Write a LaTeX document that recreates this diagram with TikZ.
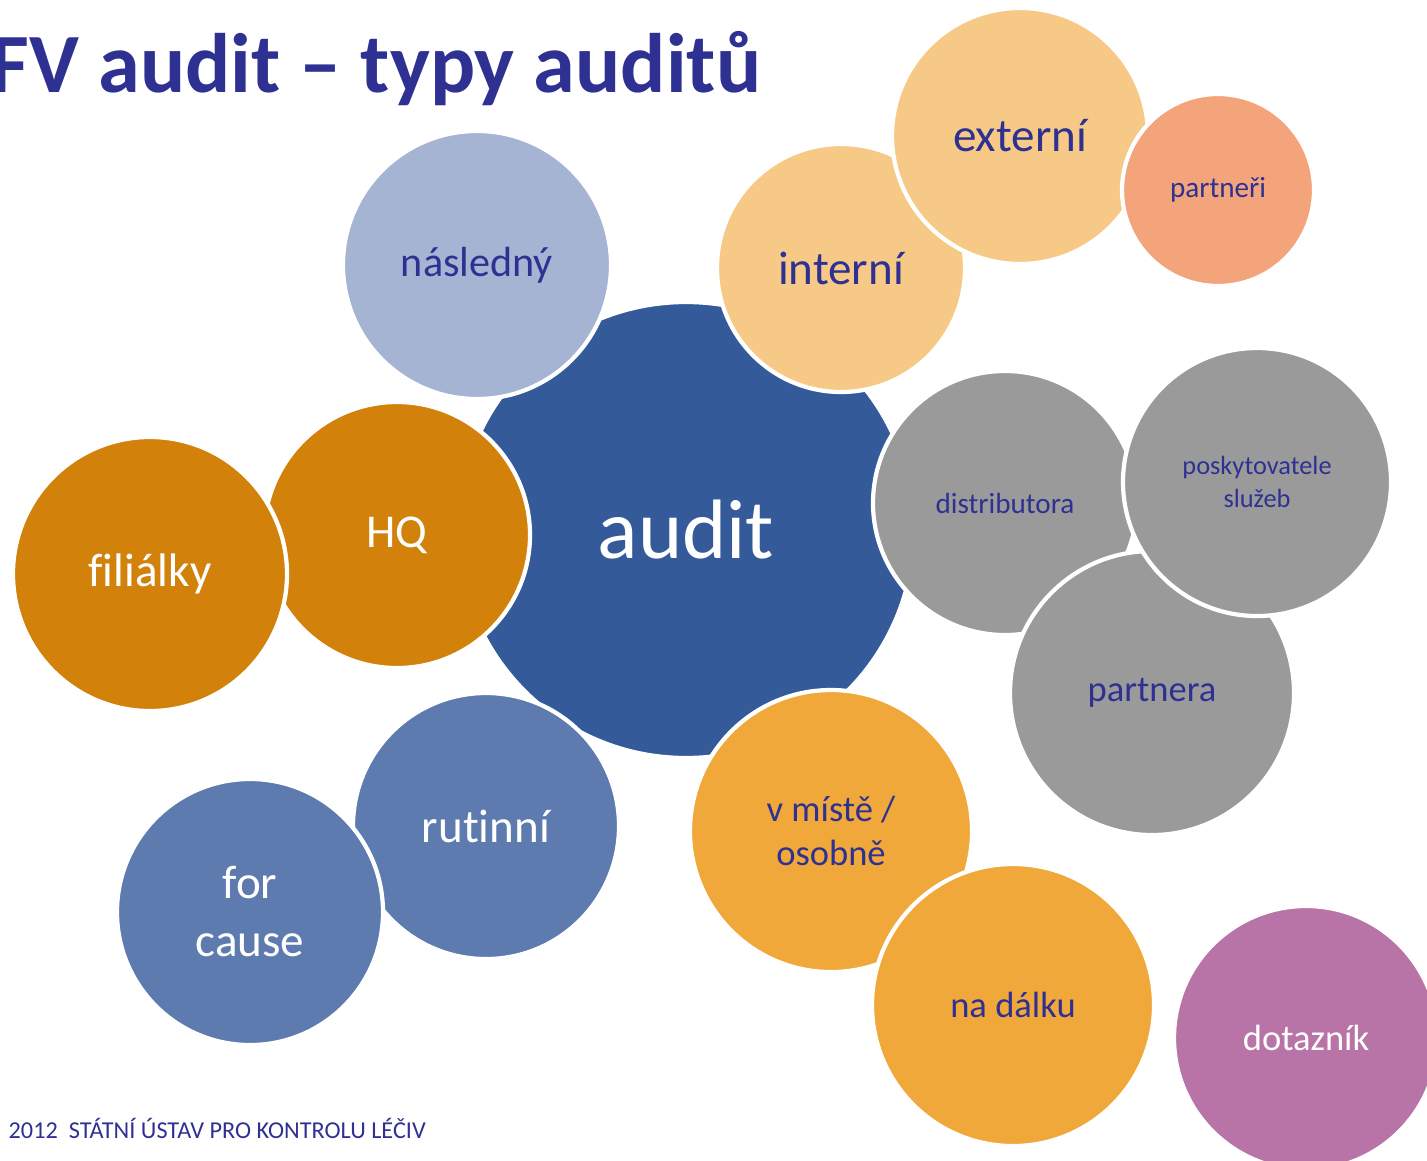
\documentclass[tikz,border=0pt]{standalone}
\usepackage{fontspec}
\setmainfont{Carlito}[Ligatures=NoCommon]
\usepackage{tikz}
\definecolor{sknavy}{HTML}{2E3192}
\definecolor{skblue}{HTML}{345A9A}
\definecolor{skpale}{HTML}{A4B4D2}
\definecolor{sksand}{HTML}{F7C987}
\definecolor{skpeach}{HTML}{F4A47B}
\definecolor{skgrey}{HTML}{9A9A9A}
\definecolor{skochre}{HTML}{D2810B}
\definecolor{skslate}{HTML}{5E7BB0}
\definecolor{skamber}{HTML}{F1A83B}
\definecolor{skplum}{HTML}{B974A7}

\begin{document}
\begin{tikzpicture}[
  font=\fontsize{13.4}{16.5}\selectfont,
  bubble/.style={circle,draw=white,line width=1.2pt,inner sep=0pt,align=center,text=sknavy},
  lighttext/.style={text=white},
  sizemid/.style={font=\fontsize{10.4}{12.6}\selectfont},
  sizesmall/.style={font=\fontsize{8.3}{10}\selectfont}
]
\clip (0,0) rectangle (14.27,-11.60);
\node[anchor=base west,inner sep=0pt,text=sknavy,font=\fontsize{24}{28}\selectfont\bfseries]
  (title) at (-0.10,-0.92) {FV audit – typy auditů};

% core
\node[bubble,fill=skblue,lighttext,minimum size=4.56cm,font=\fontsize{24}{28}\selectfont]
  (audit) at (6.86,-5.30) {audit};

% top row
\node[bubble,fill=skpale,minimum size=2.68cm,font=\fontsize{12}{15}\selectfont]
  (nasledny) at (4.77,-2.65) {následný};
\node[bubble,fill=sksand,minimum size=2.48cm] (interni) at (8.41,-2.68) {interní};
\node[bubble,fill=sksand,minimum size=2.56cm] (externi) at (10.20,-1.36) {externí};
\node[bubble,fill=skpeach,minimum size=1.92cm,sizesmall] (partneri) at (12.18,-1.90) {partneři};

% right group
\node[bubble,fill=skgrey,minimum size=2.64cm,sizesmall] (distrib) at (10.05,-5.03) {distributora};
\node[bubble,fill=skgrey,minimum size=2.84cm,sizemid] (partnera) at (11.52,-6.93) {partnera};
\node[bubble,fill=skgrey,minimum size=2.68cm,font=\fontsize{7.5}{9.2}\selectfont]
  (poskyt) at (12.57,-4.82) {poskytovatele\\služeb};

% left group
\node[bubble,fill=skochre,lighttext,minimum size=2.66cm] (hq) at (3.97,-5.35) {HQ};
\node[bubble,fill=skochre,lighttext,minimum size=2.74cm] (filialky) at (1.50,-5.74) {filiálky};

% bottom left
\node[bubble,fill=skslate,lighttext,minimum size=2.66cm] (rutinni) at (4.86,-8.26) {rutinní};
\node[bubble,fill=skslate,lighttext,minimum size=2.66cm] (forcause) at (2.50,-9.12) {for\\cause};

% bottom right
\node[bubble,fill=skamber,minimum size=2.82cm,sizemid] (vmiste) at (8.31,-8.31) {v místě /\\osobně};
\node[bubble,fill=skamber,minimum size=2.82cm,sizemid] (nadalku) at (10.13,-10.05) {na dálku};
\node[bubble,fill=skplum,lighttext,minimum size=2.64cm,sizemid] (dotaznik) at (13.06,-10.38) {dotazník};

\node[anchor=base west,inner sep=0pt,text=sknavy,font=\fontsize{6.9}{8}\selectfont]
  (footer) at (0.08,-11.38) {2012\ \ STÁTNÍ ÚSTAV PRO KONTROLU LÉČIV};
\end{tikzpicture}
\end{document}
